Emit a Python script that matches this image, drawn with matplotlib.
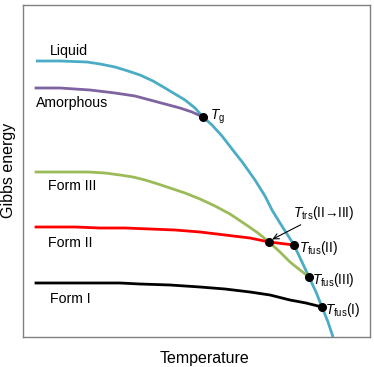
import matplotlib
matplotlib.use("Agg")
import matplotlib.pyplot as plt

plt.rcParams['font.family'] = ['Liberation Sans', 'DejaVu Sans']
plt.rcParams['mathtext.fontset'] = 'custom'
plt.rcParams['mathtext.rm'] = 'Liberation Sans'
plt.rcParams['mathtext.it'] = 'Liberation Sans:italic'

# curves: temperature (arbitrary units) vs Gibbs energy (arbitrary units)
liquid_T = [13, 37, 64, 77, 92, 105, 117, 130, 142, 152, 162, 172, 180, 189,
            199, 209, 220, 232, 242, 249, 257, 264, 271, 279, 286, 293, 299, 305, 310]
liquid_G = [276, 276, 275, 273, 270, 266, 262, 256, 249, 243, 237, 229, 220, 212,
            201, 188, 174, 157, 141, 127, 114, 103, 92, 75, 60, 45, 30, 15, 0]

amorph_T = [13, 37, 67, 92, 112, 127, 142, 157, 169, 180]
amorph_G = [249, 249, 247, 244, 241, 237, 233, 229, 225, 220]

form3_T = [13, 37, 65, 82, 97, 110, 122, 135, 147, 162, 177, 192, 207, 222,
           235, 246, 257, 267, 277, 286]
form3_G = [165, 165, 165, 164, 162, 160, 157, 153, 149, 144, 138, 131, 123, 113,
           104, 95, 85, 75, 67, 60]

form2_T = [13, 52, 77, 102, 127, 152, 177, 202, 227, 246, 271]
form2_G = [110, 110, 109, 109, 108, 107, 105, 102, 99, 95, 92]

form1_T = [13, 77, 97, 117, 147, 177, 202, 227, 247, 267, 283, 299]
form1_G = [54, 54, 54, 53, 52, 50, 48, 45, 42, 37, 34, 30]

# points: T_g, T_trs(II->III), T_fus(II), T_fus(III), T_fus(I)
pts_T = [180, 246, 271, 286, 299]
pts_G = [220, 95, 92, 60, 30]

fig = plt.figure(figsize=(3.74, 3.67), dpi=100)
ax = fig.add_axes([23 / 374, 30 / 367, 347 / 374, 332 / 367])

ax.plot(liquid_T, liquid_G, color='#4bacc6', lw=2, solid_capstyle='butt')
ax.plot(amorph_T, amorph_G, color='#7f63a1', lw=2)
ax.plot(form3_T, form3_G, color='#9bbb59', lw=2)
ax.plot(form2_T, form2_G, color='#ff0000', lw=2)
ax.plot(form1_T, form1_G, color='black', lw=2)
ax.plot(pts_T, pts_G, 'o', color='black', ms=5.5, zorder=5)

ax.set_xlim(0, 347)
ax.set_ylim(0, 332)
ax.set_xticks([])
ax.set_yticks([])
for s in ax.spines.values():
    s.set_color('#808080')
    s.set_linewidth(1)

fs = 10.2
ax.text(27, 286, 'Liquid', fontsize=fs, va='center')
ax.text(13, 234, 'Amorphous', fontsize=fs, va='center')
ax.text(25, 151, 'Form III', fontsize=fs, va='center')
ax.text(25, 94, 'Form II', fontsize=fs, va='center')
ax.text(27, 38, 'Form I', fontsize=fs, va='center')

fs2 = 9.8
ax.text(187, 220, r'$T_{\mathrm{g}}$', fontsize=fs2, va='center')
ax.text(276, 89, r'$T_{\mathrm{fus}}$(II)', fontsize=fs2, va='center')
ax.text(289, 57, r'$T_{\mathrm{fus}}$(III)', fontsize=fs2, va='center')
ax.text(302, 27, r'$T_{\mathrm{fus}}$(I)', fontsize=fs2, va='center')
ax.annotate(r'$T_{\mathrm{trs}}$(II→III)', xy=(248, 97), xytext=(270, 124),
            fontsize=fs2, va='center',
            arrowprops=dict(arrowstyle='->', color='black', lw=0.8,
                            shrinkA=0, shrinkB=1))

fig.text(9 / 374, 1 - 170 / 367, 'Gibbs energy', fontsize=11.5,
         rotation=90, ha='center', va='center')
fig.text(205 / 374, 1 - 359 / 367, 'Temperature', fontsize=11.5,
         ha='center', va='center')

fig.savefig('out.png', dpi=100)
